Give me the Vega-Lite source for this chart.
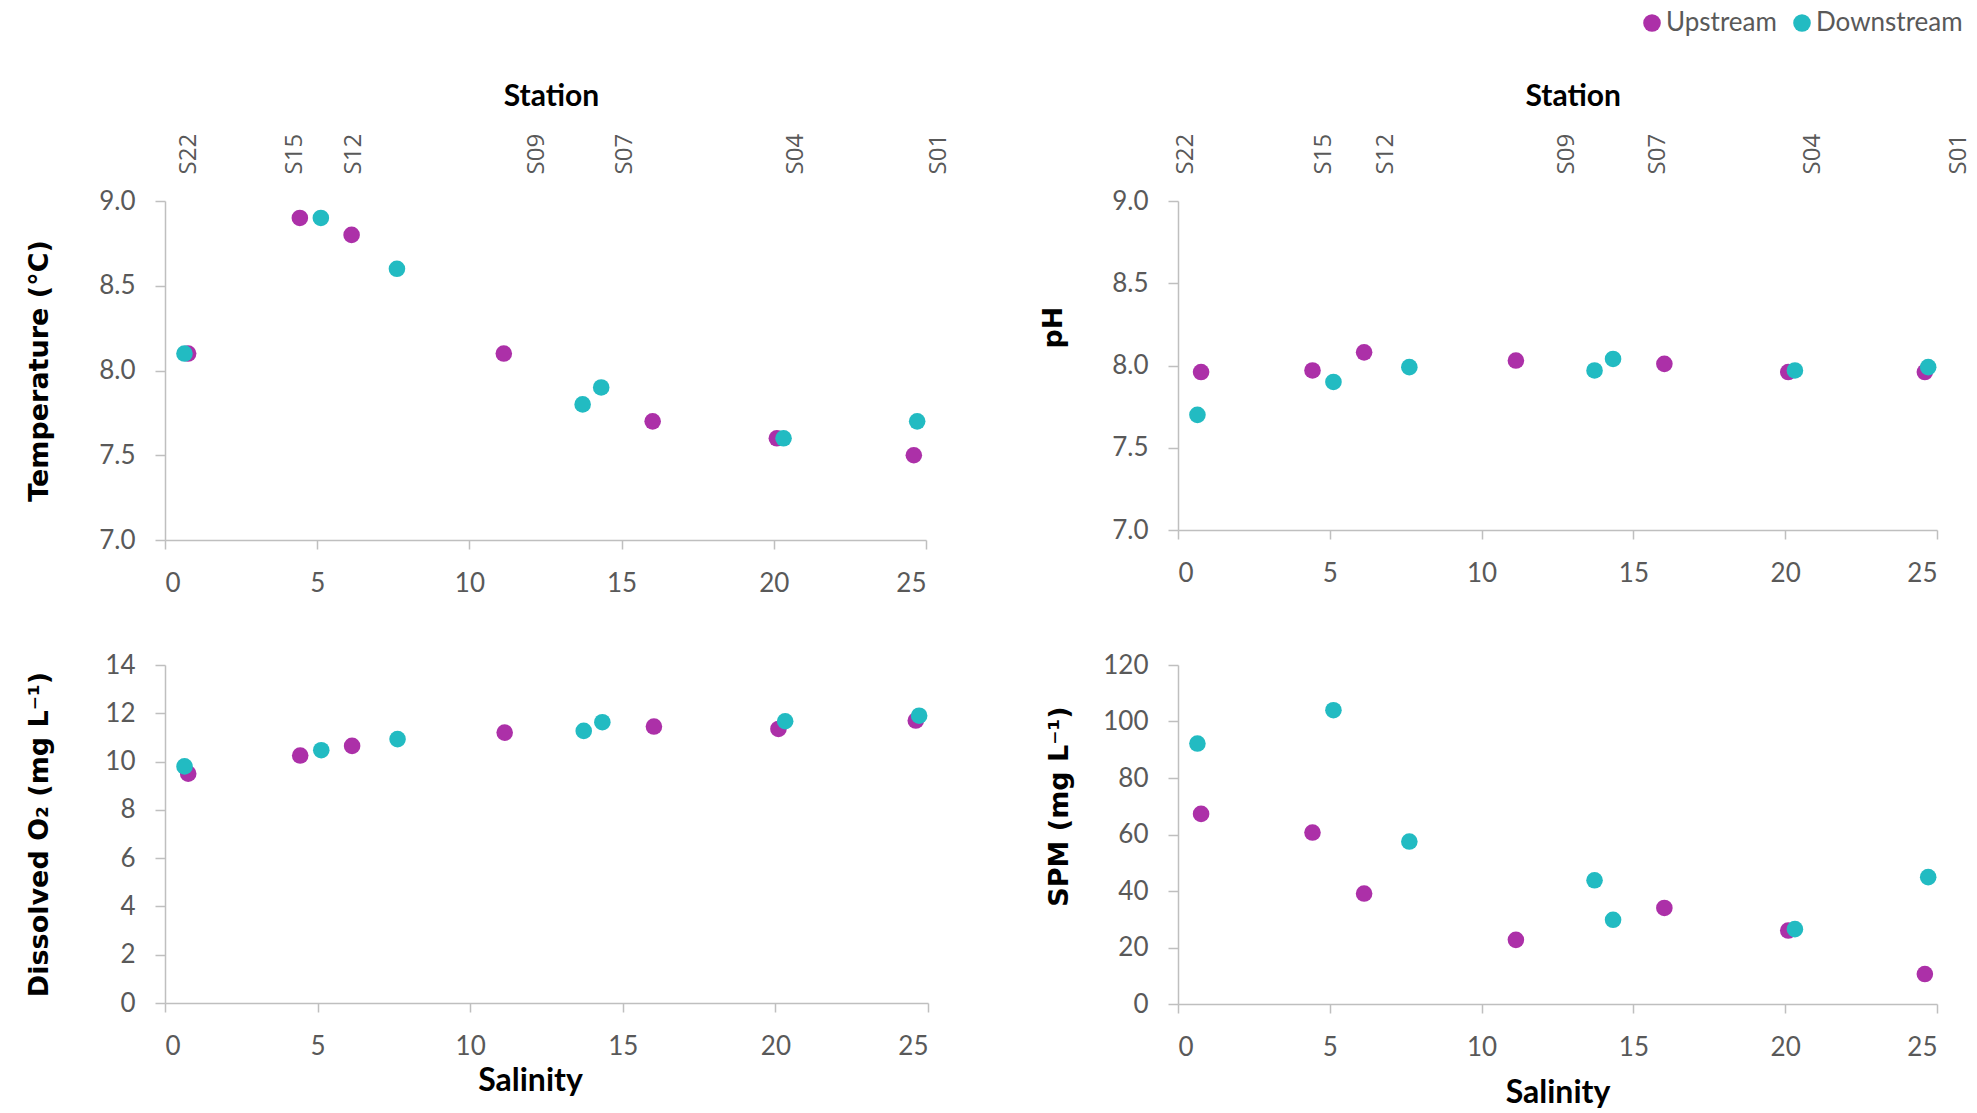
{
  "$schema": "https://vega.github.io/schema/vega-lite/v6.json",
  "background": "white",
  "padding": {"left": 25, "top": 10, "right": 10, "bottom": 10},
  "datasets": {
    "obs": [
      {"station": "S22", "site": "Upstream", "salinity": 0.76, "temperature": 8.1, "ph": 7.96, "oxygen": 9.5, "spm": 67.3},
      {"station": "S15", "site": "Upstream", "salinity": 4.43, "temperature": 8.9, "ph": 7.97, "oxygen": 10.25, "spm": 60.7},
      {"station": "S12", "site": "Upstream", "salinity": 6.13, "temperature": 8.8, "ph": 8.08, "oxygen": 10.65, "spm": 39.1},
      {"station": "S09", "site": "Upstream", "salinity": 11.13, "temperature": 8.1, "ph": 8.03, "oxygen": 11.2, "spm": 22.7},
      {"station": "S07", "site": "Upstream", "salinity": 16.02, "temperature": 7.7, "ph": 8.01, "oxygen": 11.45, "spm": 34.0},
      {"station": "S04", "site": "Upstream", "salinity": 20.1, "temperature": 7.6, "ph": 7.96, "oxygen": 11.35, "spm": 26.0},
      {"station": "S01", "site": "Upstream", "salinity": 24.6, "temperature": 7.5, "ph": 7.96, "oxygen": 11.7, "spm": 10.6},
      {"station": "S22", "site": "Downstream", "salinity": 0.64, "temperature": 8.1, "ph": 7.7, "oxygen": 9.8, "spm": 92.2},
      {"station": "S15", "site": "Downstream", "salinity": 5.12, "temperature": 8.9, "ph": 7.9, "oxygen": 10.47, "spm": 104.0},
      {"station": "S12", "site": "Downstream", "salinity": 7.62, "temperature": 8.6, "ph": 7.99, "oxygen": 10.93, "spm": 57.5},
      {"station": "S09", "site": "Downstream", "salinity": 13.72, "temperature": 7.8, "ph": 7.97, "oxygen": 11.27, "spm": 43.8},
      {"station": "S07", "site": "Downstream", "salinity": 14.33, "temperature": 7.9, "ph": 8.04, "oxygen": 11.63, "spm": 29.8},
      {"station": "S04", "site": "Downstream", "salinity": 20.32, "temperature": 7.6, "ph": 7.97, "oxygen": 11.67, "spm": 26.5},
      {"station": "S01", "site": "Downstream", "salinity": 24.71, "temperature": 7.7, "ph": 7.99, "oxygen": 11.9, "spm": 44.9}
    ],
    "stations": [
      {"station": "S22", "pos_temperature": 0.76, "pos_ph": 0.25},
      {"station": "S15", "pos_temperature": 4.27, "pos_ph": 4.8},
      {"station": "S12", "pos_temperature": 6.2, "pos_ph": 6.85},
      {"station": "S09", "pos_temperature": 12.2, "pos_ph": 12.8},
      {"station": "S07", "pos_temperature": 15.1, "pos_ph": 15.8},
      {"station": "S04", "pos_temperature": 20.7, "pos_ph": 20.9},
      {"station": "S01", "pos_temperature": 25.4, "pos_ph": 25.7}
    ]
  },
  "columns": 2,
  "spacing": {"row": 56, "column": 82},
  "resolve": {"scale": {"color": "shared"}, "legend": {"color": "shared"}},
  "concat": [
    {
      "width": 761,
      "height": 339,
      "layer": [
        {
          "data": {"name": "stations"},
          "mark": {"type": "point", "opacity": 0},
          "encoding": {
            "x": {
              "field": "pos_temperature", "type": "quantitative",
              "scale": {"domain": [0, 26], "range": [0, 791.44], "nice": false, "zero": false},
              "axis": {
                "orient": "top", "values": [0.76, 4.27, 6.2, 12.2, 15.1, 20.7, 25.4],
                "labelExpr": "datum.value < 2 ? 'S22' : datum.value < 5.8 ? 'S15' : datum.value < 9 ? 'S12' : datum.value < 14 ? 'S09' : datum.value < 18 ? 'S07' : datum.value < 23 ? 'S04' : 'S01'",
                "domain": false, "ticks": false, "labelAngle": 270, "labelPadding": 27,
                "labelFont": "Open Sans", "labelFontSize": 24,
                "title": "Station", "titleFont": "Lato", "titleFontSize": 30, "titleFontWeight": "bold", "titleColor": "#000000", "titlePadding": 22, "titleX": 386
              }
            }
          }
        },
        {
          "data": {"name": "obs"},
          "mark": {"type": "circle", "size": 275, "opacity": 1},
          "encoding": {
            "x": {
              "field": "salinity", "type": "quantitative",
              "scale": {"domain": [0, 25], "nice": false, "zero": false},
              "axis": {"orient": "bottom", "values": [0, 5, 10, 15, 20, 25], "title": null, "tickSize": 9, "labelPadding": 21}
            },
            "y": {
              "field": "temperature", "type": "quantitative",
              "scale": {"domain": [7, 9], "nice": false, "zero": false},
              "axis": {
                "values": [7, 7.5, 8, 8.5, 9], "format": ".1f", "tickSize": 10, "labelPadding": 20,
                "minExtent": 80, "maxExtent": 80,
                "title": "Temperature (°C)", "titlePadding": 32
              }
            },
            "color": {
              "field": "site", "type": "nominal",
              "scale": {"domain": ["Upstream", "Downstream"], "range": ["#AC30A8", "#22BBC2"]},
              "legend": {"title": null}
            }
          }
        }
      ],
      "resolve": {"scale": {"x": "independent"}, "axis": {"x": "independent"}}
    },
    {
      "width": 759,
      "height": 329,
      "layer": [
        {
          "data": {"name": "stations"},
          "mark": {"type": "point", "opacity": 0},
          "encoding": {
            "x": {
              "field": "pos_ph", "type": "quantitative",
              "scale": {"domain": [0, 26], "range": [0, 789.36], "nice": false, "zero": false},
              "axis": {
                "orient": "top", "values": [0.25, 4.8, 6.85, 12.8, 15.8, 20.9, 25.7],
                "labelExpr": "datum.value < 2 ? 'S22' : datum.value < 5.8 ? 'S15' : datum.value < 9 ? 'S12' : datum.value < 14 ? 'S09' : datum.value < 18 ? 'S07' : datum.value < 23 ? 'S04' : 'S01'",
                "domain": false, "ticks": false, "labelAngle": 270, "labelPadding": 27,
                "labelFont": "Open Sans", "labelFontSize": 24,
                "title": "Station", "titleFont": "Lato", "titleFontSize": 30, "titleFontWeight": "bold", "titleColor": "#000000", "titlePadding": 22
              }
            }
          }
        },
        {
          "data": {"name": "obs"},
          "mark": {"type": "circle", "size": 275, "opacity": 1},
          "encoding": {
            "x": {
              "field": "salinity", "type": "quantitative",
              "scale": {"domain": [0, 25], "nice": false, "zero": false},
              "axis": {"orient": "bottom", "values": [0, 5, 10, 15, 20, 25], "title": null, "tickSize": 9, "labelPadding": 21}
            },
            "y": {
              "field": "ph", "type": "quantitative",
              "scale": {"domain": [7, 9], "nice": false, "zero": false},
              "axis": {
                "values": [7, 7.5, 8, 8.5, 9], "format": ".1f", "tickSize": 10, "labelPadding": 20,
                "minExtent": 80, "maxExtent": 80,
                "title": "pH", "titlePadding": 31, "titleY": 126
              }
            },
            "color": {
              "field": "site", "type": "nominal",
              "scale": {"domain": ["Upstream", "Downstream"], "range": ["#AC30A8", "#22BBC2"]},
              "legend": {"title": null}
            }
          }
        }
      ],
      "resolve": {"scale": {"x": "independent"}, "axis": {"x": "independent"}}
    },
    {
      "width": 763,
      "height": 338,
      "data": {"name": "obs"},
      "mark": {"type": "circle", "size": 275, "opacity": 1},
      "encoding": {
        "x": {
          "field": "salinity", "type": "quantitative",
          "scale": {"domain": [0, 25], "nice": false, "zero": false},
          "axis": {"orient": "bottom", "values": [0, 5, 10, 15, 20, 25], "title": "Salinity", "tickSize": 9, "labelPadding": 21, "titlePadding": 6, "titleX": 365}
        },
        "y": {
          "field": "oxygen", "type": "quantitative",
          "scale": {"domain": [0, 14], "nice": false, "zero": false},
          "axis": {
            "values": [0, 2, 4, 6, 8, 10, 12, 14], "tickSize": 10, "labelPadding": 20,
            "minExtent": 80, "maxExtent": 80,
            "title": "Dissolved O₂ (mg L⁻¹)", "titlePadding": 32
          }
        },
        "color": {
          "field": "site", "type": "nominal",
          "scale": {"domain": ["Upstream", "Downstream"], "range": ["#AC30A8", "#22BBC2"]},
          "legend": {"title": null}
        }
      }
    },
    {
      "width": 759,
      "height": 339,
      "data": {"name": "obs"},
      "mark": {"type": "circle", "size": 275, "opacity": 1},
      "encoding": {
        "x": {
          "field": "salinity", "type": "quantitative",
          "scale": {"domain": [0, 25], "nice": false, "zero": false},
          "axis": {"orient": "bottom", "values": [0, 5, 10, 15, 20, 25], "title": "Salinity", "tickSize": 9, "labelPadding": 21, "titlePadding": 17}
        },
        "y": {
          "field": "spm", "type": "quantitative",
          "scale": {"domain": [0, 120], "nice": false, "zero": false},
          "axis": {
            "values": [0, 20, 40, 60, 80, 100, 120], "tickSize": 10, "labelPadding": 20,
            "minExtent": 80, "maxExtent": 80,
            "title": "SPM (mg L⁻¹)", "titlePadding": 25, "titleY": 141
          }
        },
        "color": {
          "field": "site", "type": "nominal",
          "scale": {"domain": ["Upstream", "Downstream"], "range": ["#AC30A8", "#22BBC2"]},
          "legend": {"title": null}
        }
      }
    }
  ],
  "config": {
    "font": "Lato",
    "view": {"stroke": null},
    "axis": {
      "grid": false,
      "domainColor": "#BFBFBF", "domainWidth": 1.5,
      "tickColor": "#BFBFBF", "tickWidth": 1.5,
      "labelFont": "Lato", "labelFontSize": 26, "labelColor": "#595959",
      "titleColor": "#000000"
    },
    "axisX": {"titleFont": "Lato", "titleFontSize": 32, "titleFontWeight": "bold"},
    "axisY": {"titleFont": "DejaVu Sans", "titleFontSize": 27, "titleFontWeight": "bold"},
    "legend": {
      "orient": "none", "legendX": 1474, "legendY": -191, "direction": "horizontal",
      "padding": 0, "symbolType": "circle", "symbolSize": 310, "symbolStrokeWidth": 0,
      "labelFont": "Lato", "labelFontSize": 26, "labelColor": "#595959", "labelOffset": 1,
      "columnPadding": 12
    }
  }
}
